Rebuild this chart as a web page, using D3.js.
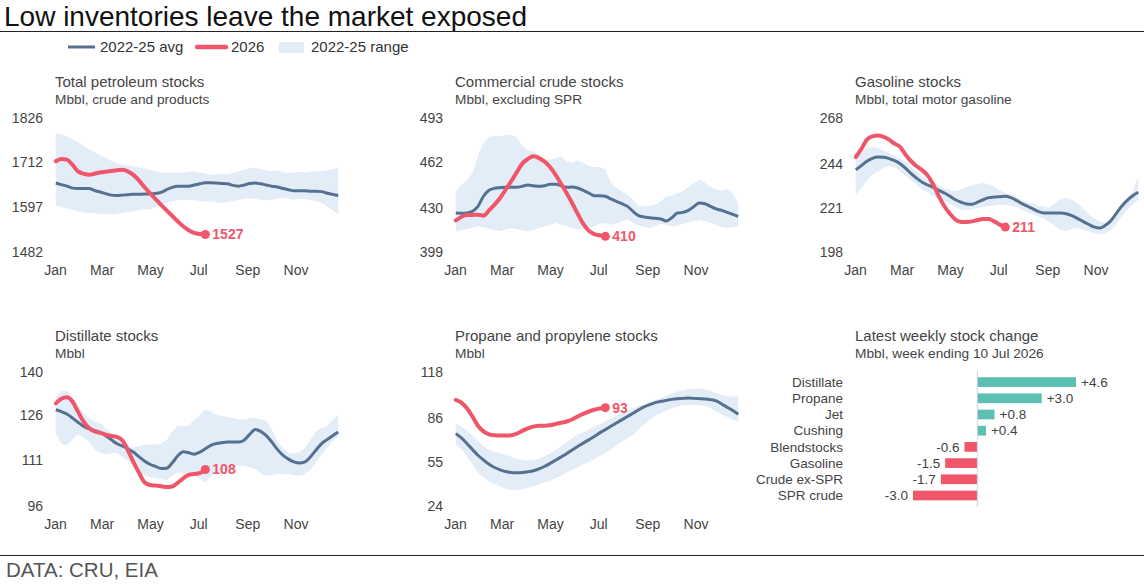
<!DOCTYPE html>
<html>
<head>
<meta charset="utf-8">
<script src="https://cdn.jsdelivr.net/npm/d3@7"></script>
<style>
body { margin: 0; background: #fff; }
svg text { font-family: "Liberation Sans", Arial, sans-serif; }
</style>
</head>
<body>
<svg id="chart" width="1144" height="584"></svg>
<script>
// weekly series, week ending Fridays from 2 Jan
const firstWeek = new Date(2026, 0, 2);
const weeks = d3.range(52).map(i => d3.timeDay.offset(firstWeek, 7 * i));
const monthTicks = [0, 2, 4, 6, 8, 10].map(m => new Date(2026, m, 1));

// Total petroleum stocks
const petTicks = [1482, 1597, 1712, 1826];
const petAvg = [1659,1655,1651,1646,1645,1645,1645,1640,1636,1632,1628,1627,1628,1629,1630,1630,1631,1631,1632,1635,1642,1648,1651,1651,1651,1654,1657,1660,1660,1659,1658,1657,1653,1651,1654,1658,1659,1657,1654,1651,1649,1645,1642,1639,1639,1639,1638,1638,1637,1633,1630,1627];
const petHi = [1786,1784,1779,1772,1764,1755,1746,1738,1730,1723,1716,1710,1706,1704,1702,1699,1697,1693,1689,1686,1685,1686,1685,1686,1688,1689,1686,1683,1680,1681,1683,1680,1685,1689,1693,1697,1698,1695,1692,1689,1691,1687,1685,1686,1688,1686,1688,1689,1690,1692,1695,1698];
const petLo = [1602,1597,1594,1591,1586,1584,1582,1582,1580,1579,1578,1580,1582,1585,1586,1589,1591,1592,1597,1603,1608,1612,1615,1616,1616,1615,1613,1611,1612,1610,1608,1610,1613,1616,1618,1620,1618,1616,1615,1616,1619,1621,1618,1616,1619,1618,1615,1612,1608,1599,1589,1578];
const pet2026 = [1715,1721,1719,1706,1689,1683,1680,1683,1686,1688,1690,1692,1693,1689,1680,1666,1649,1633,1618,1603,1589,1575,1561,1548,1538,1531,1528,1527];

// Commercial crude stocks
const crudeTicks = [399, 430, 462, 493];
const crudeAvg = [426.4,426.1,426.4,427.5,431,438.1,442.3,443.7,444.1,444.4,444.4,444.4,445.1,446,445.5,445.1,445.5,446.5,446.5,445.5,444.4,444.6,443.9,442.3,440.4,438.5,438.5,438.1,436.2,434.5,432.9,431,427.5,424.5,423.6,423.1,422.6,422.2,420.8,423,426.4,426.8,428.2,431,433.4,432.9,431,429.2,428.2,426.8,425.4,424];
const crudeHi = [441.6,446.2,449.7,454.4,466.1,475.5,479.7,480.6,480.1,481.1,481.3,479.7,473.6,470.3,469.6,467.3,463.8,463.8,464.9,466.1,462.6,461.4,463.3,461.4,459.1,458.6,458.6,456.8,447.4,443.9,441.6,439.2,435.7,431,431,431.5,432.2,434.5,438.1,438.5,440.4,441.6,444.6,447.4,449.7,447.4,444.6,442.7,442.3,443.2,440.4,433.4];
const crudeLo = [413.5,414.2,415.1,415.8,417,416.5,415.1,414.2,413.5,414.7,415.8,415.1,414.2,413.5,414.2,415.8,417,418.2,419.4,418.2,417,415.8,414.7,415.1,415.8,417,418.9,419.4,418.2,418.9,420.5,421.7,419.4,417.5,416.5,415.8,417,418.9,418.2,417,417.5,418.9,419.8,420.5,421.7,420.5,419.4,418,416.5,415.8,416.5,417];
const crude2026 = [421.2,423.6,425,425,425.2,424.5,428.2,432.2,436.9,442.7,448.6,454.9,461,464.2,466.1,464.9,462.6,458.6,453.3,446.9,440.4,433.4,425.9,418.9,414,411.6,410.7,410];

// Gasoline stocks
const gasTicks = [198, 221, 244, 268];
const gasAvg = [241,243.1,245.4,246.9,247.6,247.5,246.8,245.7,244.1,241.7,238.9,236.5,234.4,233,231.8,230.2,228.8,227.1,225.3,224,223.1,222.9,224,225.3,226.4,226.7,226.9,227.1,226.4,225,223.3,221.9,220.5,219.1,218.4,218.4,218.4,218.4,218,217,215.6,214,212.5,211.1,210.5,211.8,214.2,218,221.9,225,227.4,229.2];
const gasHi = [246.2,249.7,252.3,252.9,252.3,251.1,249.7,248.3,246.9,244.8,242.4,240,237.5,235.4,234.1,232.7,231.3,230.2,229.7,230.6,232,232.7,233.7,234.1,233.4,232.3,230.2,228.8,228,226.7,225.3,224,223.3,222.2,221.5,221.2,223.6,225.7,226.4,225.3,223.6,221,218,215.6,214,213.2,214.6,217.5,221,224.5,229.7,237.5];
const gasLo = [228,231.4,235.4,238.4,240.1,241.9,242.8,242.4,240.1,237.9,235.4,233.2,230.6,228.8,227.1,225.7,224.5,223.1,221.5,220.1,220.1,220.5,221,221.5,221.9,222.2,222.6,222.7,222.2,221.5,220.1,218.7,217.7,216.6,215.2,213.5,211.4,209.3,208.8,210,210.5,209.7,208.8,207.9,207.1,207.6,209.3,212.3,216.6,220.1,222.7,225.3];
const gas2026 = [247.6,251.8,256.7,258.4,258.8,258.1,256.7,254.6,252.9,248.8,245.4,242.8,240.7,237.9,233.2,227.1,221.9,218,214.9,213.7,213.7,214,214.7,215.2,215.2,214,212.3,211];

// Distillate stocks
const distTicks = [96, 111, 126, 140];
const distAvg = [127.6,127,126.2,124.9,123.5,122.2,121.3,120.8,120.2,119.1,117.8,116.5,115.7,114.8,113.7,112.2,110.8,109.7,109,108.3,108.4,110.1,112.4,113.8,113.5,113,113.7,114.8,115.9,116.5,116.8,117,117,117,117.6,119.5,121.1,120.5,119.1,117,114.6,112.7,111.4,110.5,110.1,110.5,112.2,114.4,116.5,117.8,119.1,120.3];
const distHi = [131.9,133.8,133.8,131.9,129.2,126.5,124.9,123.8,123.2,121.6,120,118.4,117,115.9,115.1,115.7,116.1,116.2,116.2,116.5,117.6,120.5,122.4,122.2,122.4,124.3,125.9,127.6,127,125.9,125.6,125.2,124.9,124.5,124.3,124.9,124.9,124.5,124.1,121.1,117.3,115.1,113.5,113.2,113.7,115.1,117.8,120.5,121.6,122.2,124.3,125.9];
const distLo = [120,116.5,115.9,117.8,119.5,118.4,117,114.6,113.5,113,113.3,113.5,112.2,110.8,109.2,107.2,106.2,105.4,105.1,104.9,104.3,105.9,107,106.8,106.8,106.2,104.9,103.8,105.7,107,107.6,107.9,108.3,109.2,109.2,108.7,108.1,106.8,105.9,106.2,106.5,106.5,106.5,106.2,105.9,106.5,108.1,110.3,113,115.1,117.3,118.9];
const dist2026 = [129.7,131.2,131.7,130.3,127,123.8,121.6,120.5,120,119.4,119,118.7,117.6,114.4,110.5,107,103.8,102.9,102.7,102.5,102.2,102.4,103.6,105.1,106.2,106.5,106.8,108];

// Propane and propylene stocks
const propTicks = [24, 55, 86, 118];
const propAvg = [74.8,71.8,67.9,63.7,59.6,56.3,53.3,51,49.4,48.2,47.5,47.3,47.5,48,48.7,50.1,51.7,53.8,56.1,58.4,60.7,63.3,65.8,68.1,70.4,72.7,75.3,77.6,79.9,82.2,84.5,86.8,89.1,91.4,93.5,95.1,96.5,97.4,98.1,98.8,99.3,99.5,99.8,99.5,99.3,99.1,98.6,97.7,95.6,93.3,91,88.4];
const propHi = [81.7,79.9,77.1,73.4,69.5,66,63.3,61.9,60.9,60,58.6,57.2,56.3,55.9,56.1,57.2,59.1,60.9,63.3,66,68.8,71.6,73.9,75.7,77.6,79.4,81.5,83.3,85.2,87.3,89.4,91,92.6,94.2,95.6,97,98.4,99.8,101.4,103,104.4,105.3,106,106.2,106.4,105.8,104.8,103.4,102.1,101.1,100.9,101.1];
const propLo = [67.2,63.7,59.1,53.3,47.5,44.1,41.1,39.5,37.8,36,35.3,35.3,36,36.7,37.8,39.2,40.6,41.8,43.4,45.2,47.1,49.4,51.2,53.1,54.9,56.8,59.1,61.4,63.7,66.5,69.3,71.6,73.9,77.6,81,84.5,87.3,89.1,91,92.6,93.7,94.7,94.9,94.9,94.7,94.2,92.6,90.3,88,86.4,84.5,83.3];
const prop2026 = [98.4,96.5,92.6,86.8,80.3,76.4,74.3,73.6,73.4,73.4,73.6,74.8,76.7,78.5,79.7,80.3,80.3,80.6,81.5,82.4,83.3,84.7,86.8,88.6,90.2,91.5,92.4,93];

// Latest weekly change
const chgNames = ["Distillate", "Propane", "Jet", "Cushing", "Blendstocks", "Gasoline", "Crude ex-SPR", "SPR crude"];
const chgValues = [4.6, 3.0, 0.8, 0.4, -0.6, -1.5, -1.7, -3.0];

const blue = "#56718f", red = "#f0566a", band = "#e3edf8", teal = "#5bbfb1";
const grey = "#444";

const svg = d3.select("#chart");

svg.append("text")
    .attr("x", 4).attr("y", 25.5)
    .attr("font-size", 28).attr("fill", "#111")
    .text("Low inventories leave the market exposed");
svg.append("line")
    .attr("x1", 0).attr("x2", 1144).attr("y1", 31.5).attr("y2", 31.5)
    .attr("stroke", "#222").attr("stroke-width", 1.2);

// legend
const leg = svg.append("g");
leg.append("line").attr("x1", 68).attr("x2", 95).attr("y1", 47).attr("y2", 47)
    .attr("stroke", blue).attr("stroke-width", 3);
leg.append("text").attr("x", 100).attr("y", 52).attr("font-size", 15).attr("fill", "#333").text("2022-25 avg");
leg.append("line").attr("x1", 197).attr("x2", 226).attr("y1", 47).attr("y2", 47)
    .attr("stroke", red).attr("stroke-width", 4.5).attr("stroke-linecap", "round");
leg.append("text").attr("x", 231).attr("y", 52).attr("font-size", 15).attr("fill", "#333").text("2026");
leg.append("rect").attr("x", 279).attr("y", 42).attr("width", 25).attr("height", 11).attr("fill", band);
leg.append("text").attr("x", 311).attr("y", 52).attr("font-size", 15).attr("fill", "#333").text("2022-25 range");

const colX = [55, 455, 855];
const rowY = [118, 372];
const plotW = 288, plotH = 134;

const panels = [
    {title: "Total petroleum stocks", sub: "Mbbl, crude and products", ticks: petTicks, avg: petAvg, hi: petHi, lo: petLo, cur: pet2026, col: 0, row: 0},
    {title: "Commercial crude stocks", sub: "Mbbl, excluding SPR", ticks: crudeTicks, avg: crudeAvg, hi: crudeHi, lo: crudeLo, cur: crude2026, col: 1, row: 0},
    {title: "Gasoline stocks", sub: "Mbbl, total motor gasoline", ticks: gasTicks, avg: gasAvg, hi: gasHi, lo: gasLo, cur: gas2026, col: 2, row: 0},
    {title: "Distillate stocks", sub: "Mbbl", ticks: distTicks, avg: distAvg, hi: distHi, lo: distLo, cur: dist2026, col: 0, row: 1},
    {title: "Propane and propylene stocks", sub: "Mbbl", ticks: propTicks, avg: propAvg, hi: propHi, lo: propLo, cur: prop2026, col: 1, row: 1}
];

panels.forEach(p => {
    const x0 = colX[p.col], top = rowY[p.row];
    const g = svg.append("g");

    const x = d3.scaleTime()
        .domain([new Date(2026, 0, 1), new Date(2026, 11, 31)])
        .range([x0, x0 + plotW]);
    const y = d3.scaleLinear()
        .domain([p.ticks[0], p.ticks[p.ticks.length - 1]])
        .range([top + plotH, top]);

    g.append("text").attr("x", x0).attr("y", top - 31)
        .attr("font-size", 15).attr("fill", grey).text(p.title);
    g.append("text").attr("x", x0).attr("y", top - 14.5)
        .attr("font-size", 13.7).attr("fill", grey).text(p.sub);

    const area = d3.area()
        .x((d, i) => x(weeks[i]))
        .y0((d, i) => y(p.lo[i]))
        .y1(d => y(d));
    g.append("path").datum(p.hi).attr("d", area).attr("fill", band);

    const line = d3.line()
        .x((d, i) => x(weeks[i]))
        .y(d => y(d))
        .curve(d3.curveMonotoneX);
    g.append("path").datum(p.avg).attr("d", line)
        .attr("fill", "none").attr("stroke", blue).attr("stroke-width", 3);
    g.append("path").datum(p.cur).attr("d", line)
        .attr("fill", "none").attr("stroke", red).attr("stroke-width", 4)
        .attr("stroke-linejoin", "round").attr("stroke-linecap", "round");

    const n = p.cur.length - 1;
    g.append("circle").attr("cx", x(weeks[n])).attr("cy", y(p.cur[n])).attr("r", 4.5).attr("fill", red);
    g.append("text").attr("x", x(weeks[n]) + 7).attr("y", y(p.cur[n])).attr("dy", "0.35em")
        .attr("font-size", 14).attr("font-weight", "bold").attr("fill", red)
        .text(d3.format(".0f")(p.cur[n]));

    const ya = g.append("g").attr("transform", `translate(${x0},0)`)
        .call(d3.axisLeft(y).tickValues(p.ticks).tickFormat(d3.format("d")).tickSize(0).tickPadding(12));
    ya.select(".domain").remove();
    ya.selectAll("text").attr("font-size", 14).attr("fill", grey).attr("font-family", null);

    const xa = g.append("g").attr("transform", `translate(0,${top + plotH})`)
        .call(d3.axisBottom(x).tickValues(monthTicks).tickFormat(d3.timeFormat("%b")).tickSize(0).tickPadding(13));
    xa.select(".domain").remove();
    xa.selectAll("text").attr("font-size", 14).attr("fill", grey).attr("font-family", null);
});

// weekly change bars
const bg = svg.append("g");
bg.append("text").attr("x", 855).attr("y", 341)
    .attr("font-size", 15).attr("fill", grey).text("Latest weekly stock change");
bg.append("text").attr("x", 855).attr("y", 357.5)
    .attr("font-size", 13.7).attr("fill", grey).text("Mbbl, week ending 10 Jul 2026");

const bx = d3.scaleLinear().domain(d3.extent(chgValues)).range([913, 1076]);
const by = d3.scaleBand().domain(chgNames).range([374, 503.6]).paddingInner(0.4).paddingOuter(0.2);

bg.selectAll("rect.bar")
    .data(chgValues)
    .join("rect")
    .attr("class", "bar")
    .attr("x", d => Math.min(bx(0), bx(d)))
    .attr("y", (d, i) => by(chgNames[i]))
    .attr("width", d => Math.abs(bx(d) - bx(0)))
    .attr("height", by.bandwidth())
    .attr("fill", d => d >= 0 ? teal : red);

bg.append("line")
    .attr("x1", bx(0)).attr("x2", bx(0)).attr("y1", 371).attr("y2", 507)
    .attr("stroke", "#c9d5e2").attr("stroke-width", 1);

bg.selectAll("text.cat")
    .data(chgNames)
    .join("text")
    .attr("class", "cat")
    .attr("x", 843)
    .attr("y", d => by(d) + by.bandwidth() / 2)
    .attr("dy", "0.35em")
    .attr("text-anchor", "end")
    .attr("font-size", 13.5).attr("fill", grey)
    .text(d => d);

bg.selectAll("text.val")
    .data(chgValues)
    .join("text")
    .attr("class", "val")
    .attr("x", d => d >= 0 ? bx(d) + 5 : bx(d) - 5)
    .attr("y", (d, i) => by(chgNames[i]) + by.bandwidth() / 2)
    .attr("dy", "0.35em")
    .attr("text-anchor", d => d >= 0 ? "start" : "end")
    .attr("font-size", 13.5).attr("fill", grey)
    .text(d => (d > 0 ? "+" : "") + d.toFixed(1));

// footer
svg.append("line")
    .attr("x1", 0).attr("x2", 1144).attr("y1", 555.5).attr("y2", 555.5)
    .attr("stroke", "#222").attr("stroke-width", 1.2);
svg.append("text").attr("x", 6).attr("y", 577)
    .attr("font-size", 20.5).attr("fill", "#555")
    .text("DATA: CRU, EIA");
</script>
</body>
</html>
